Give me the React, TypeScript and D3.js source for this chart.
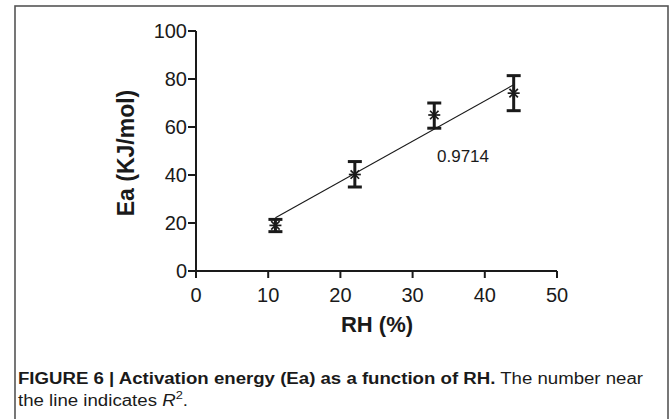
import React from "react";
import * as d3 from "d3";

const rh = [11, 22, 33, 44];
const eaMean = [19, 40.2, 65, 74.1];
const eaLow = [16.4, 35, 59.5, 66.8];
const eaHigh = [21.5, 45.6, 70, 81.4];
const fitX = [11, 44];
const fitY = [22.2, 77.6];
const xTicks = [0, 10, 20, 30, 40, 50];
const yTicks = [0, 20, 40, 60, 80, 100];
const r2Label = "0.9714";

const W = 671;
const H = 419;
const left = 196;
const right = 557;
const top = 31;
const bottom = 271;

export default function App() {
  const x = d3.scaleLinear().domain([0, 50]).range([left, right]);
  const y = d3.scaleLinear().domain([0, 100]).range([bottom, top]);
  const line = d3
    .line<number>()
    .x((d) => x(fitX[d]))
    .y((d) => y(fitY[d]));
  const font = "'Liberation Sans', Arial, Helvetica, sans-serif";
  const ink = "#1a1a1a";
  const capW = 7;
  const starR = 6;
  const angles = [0, 45, 90, 135];

  return (
    <svg
      width={W}
      height={H}
      viewBox={`0 0 ${W} ${H}`}
      style={{ position: "absolute", left: 0, top: 0, background: "#fff" }}
      fontFamily={font}
    >
      <rect x={15} y={6} width={653} height={430} fill="none" stroke="#555" strokeWidth={1.6} />

      {/* axes */}
      <line x1={left} x2={left} y1={top} y2={bottom + 7} stroke={ink} strokeWidth={2} />
      <line x1={left} x2={right} y1={bottom} y2={bottom} stroke={ink} strokeWidth={2} />
      {yTicks.map((t) => (
        <g key={"y" + t}>
          <line x1={left - 8} x2={left} y1={y(t)} y2={y(t)} stroke={ink} strokeWidth={2} />
          <text x={left - 9} y={y(t) + 7} textAnchor="end" fontSize={20} fill={ink}>
            {t}
          </text>
        </g>
      ))}
      {xTicks.map((t) => (
        <g key={"x" + t}>
          <line x1={x(t)} x2={x(t)} y1={bottom} y2={bottom + 7} stroke={ink} strokeWidth={2} />
          <text x={x(t)} y={bottom + 31} textAnchor="middle" fontSize={20} fill={ink}>
            {t}
          </text>
        </g>
      ))}

      <text
        transform={`translate(${134},${153}) rotate(-90)`}
        textAnchor="middle"
        fontSize={23}
        fontWeight="bold"
        fill={ink}
      >
        Ea (KJ/mol)
      </text>
      <text x={377} y={332} textAnchor="middle" fontSize={22} fontWeight="bold" fill={ink}>
        RH (%)
      </text>

      {/* fit line */}
      <path d={line([0, 1]) || ""} fill="none" stroke={ink} strokeWidth={1.1} />
      <text x={463} y={162} textAnchor="middle" fontSize={17} fill={ink}>
        {r2Label}
      </text>

      {/* error bars + markers */}
      {rh.map((v, i) => {
        const cx = x(v);
        return (
          <g key={"p" + i} stroke={ink}>
            <line x1={cx} x2={cx} y1={y(eaLow[i])} y2={y(eaHigh[i])} strokeWidth={3} />
            <line x1={cx - capW} x2={cx + capW} y1={y(eaLow[i])} y2={y(eaLow[i])} strokeWidth={3} />
            <line x1={cx - capW} x2={cx + capW} y1={y(eaHigh[i])} y2={y(eaHigh[i])} strokeWidth={3} />
            {angles.map((a) => {
              const rad = (a * Math.PI) / 180;
              const dx = Math.cos(rad) * starR;
              const dy = Math.sin(rad) * starR;
              return (
                <line
                  key={a}
                  x1={cx - dx}
                  x2={cx + dx}
                  y1={y(eaMean[i]) - dy}
                  y2={y(eaMean[i]) + dy}
                  strokeWidth={1.7}
                />
              );
            })}
          </g>
        );
      })}

      {/* caption */}
      <text x={18} y={384} fontSize={16} fill={ink} textLength={625} lengthAdjust="spacingAndGlyphs">
        <tspan fontWeight="bold">FIGURE 6 | Activation energy (Ea) as a function of RH.</tspan>
        <tspan> The number near</tspan>
      </text>
      <text x={18} y={406} fontSize={16} fill={ink} textLength={170} lengthAdjust="spacingAndGlyphs">
        <tspan>the line indicates </tspan>
        <tspan fontStyle="italic">R</tspan>
        <tspan fontSize={11} dy={-7}>2</tspan>
        <tspan dy={7}>.</tspan>
      </text>
    </svg>
  );
}
